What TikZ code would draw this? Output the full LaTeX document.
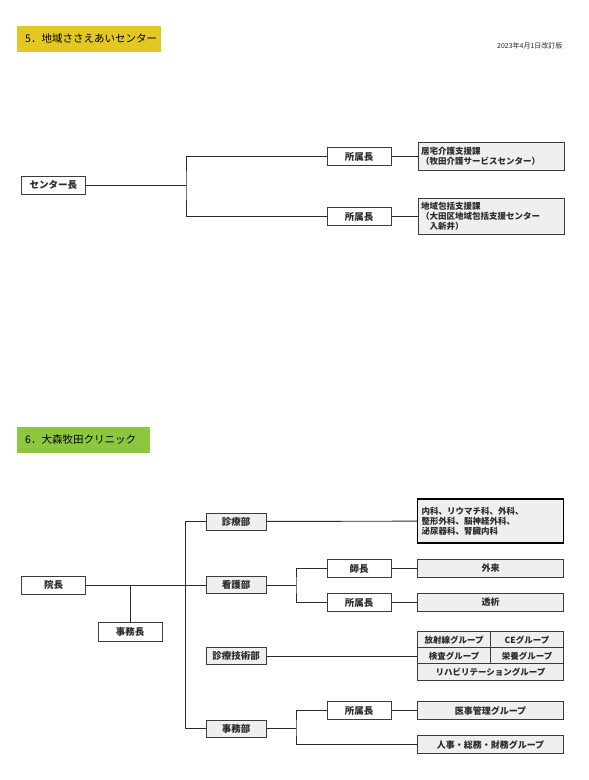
\documentclass[tikz,border=0pt]{standalone}
\usepackage{fontspec}
\setmainfont{Noto Sans CJK JP}
\usepackage{xcolor}
\usetikzlibrary{positioning,calc}
\definecolor{Yellow}{HTML}{E4C722}
\definecolor{Green}{HTML}{8DC63F}
\definecolor{Pale}{HTML}{EFEFEF}
\definecolor{Ink}{HTML}{2B2B2B}
\definecolor{Frame}{HTML}{3C3C3C}
\begin{document}
\begin{tikzpicture}[x=1pt,y=-1pt,
head/.style={anchor=west,minimum height=26,inner xsep=8,inner ysep=0,text width=128,align=left,font=\fontsize{10.5}{12}\selectfont},
box/.style={draw=Frame,line width=1pt,fill=white,minimum width=64,minimum height=18,inner sep=0pt,text=Ink,font=\bfseries\fontsize{9.5}{10}\selectfont},
dept/.style={box,fill=Pale,minimum width=60,minimum height=17},
unit/.style={box,fill=Pale,minimum width=146,font=\bfseries\fontsize{9}{10}\selectfont},
note/.style={unit,align=left,text width=141,inner xsep=2.5,font=\bfseries\fontsize{8.5}{10}\selectfont},
cell/.style={unit,minimum width=73,minimum height=16.5,font=\bfseries\fontsize{8.5}{10}\selectfont},
link/.style={draw=Ink,line width=0.9pt}]
\useasboundingbox[fill=white] (0,0) rectangle (589,780);
\node[head,fill=Yellow] (h5) at (17,39) {5．地域ささえあいセンター};
\node[anchor=base east,text=Ink,font=\fontsize{7}{8}\selectfont] (date) at (566,48) {2023年4月1日改訂版};
\node[box] (c) at (53.5,185) {センター長};
\node[box] (s1) at (359,156.5) {所属長};
\node[box] (s2) at (359,216.5) {所属長};
\node[note,minimum height=28] (r1) at (491.5,156.5) {居宅介護支援課\\（牧田介護サービスセンター）};
\node[note,minimum height=36] (r2) at (491.5,216.5) {地域包括支援課\\（大田区地域包括支援センター\\\hspace{1em}入新井）};
\coordinate (j1) at (186,185);
\draw[link] (c) -- (j1);
\draw[link] (s1.west) -| (j1) |- (s2.west);
\draw[link] (s1) -- (r1);
\draw[link] (s2) -- (r2);
\node[head,fill=Green,text width=117] (h6) at (17,439.5) {6．大森牧田クリニック};
\node[box] (dir) at (53.5,585) {院長};
\node[box,minimum height=19] (jm) at (130,632) {事務長};
\node[dept] (d1) at (236,521.5) {診療部};
\node[dept] (d2) at (236,585) {看護部};
\node[dept] (d3) at (236,656) {診療技術部};
\node[dept] (d4) at (236,728.5) {事務部};
\node[note,minimum height=44,draw=black,line width=1.2pt,inner xsep=4,text width=138] (u0) at (490.5,521) {内科、リウマチ科、外科、\\整形外科、脳神経外科、\\泌尿器科、腎臓内科};
\node[box] (n1) at (359,568.5) {師長};
\node[box] (n2) at (359,602.5) {所属長};
\node[unit] (u1) at (490.5,568.5) {外来};
\node[unit] (u2) at (490.5,602.5) {透析};
\node[cell] (g11) at (454,640) {放射線グループ};
\node[cell] (g12) at (527,640) {CEグループ};
\node[cell] (g21) at (454,656) {検査グループ};
\node[cell] (g22) at (527,656) {栄養グループ};
\node[cell,minimum width=146] (g3) at (490.5,672) {リハビリテーショングループ};
\node[box] (a1) at (359,710.5) {所属長};
\node[unit] (u5) at (490.5,710.5) {医事管理グループ};
\node[unit] (u6) at (490.5,744.5) {人事・総務・財務グループ};
\coordinate (t) at (185.5,620);
\coordinate (k) at (296,585);
\coordinate (m) at (296,728.5);
\draw[link] (dir) -- (d2);
\draw[link] (jm.north) -- (jm.north |- dir.east);
\draw[link] (d1.west) -| (t) |- (d4.west);
\draw[link] (d1) -- (u0);
\draw[link] (d2) -- (k);
\draw[link] (n1.west) -| (k) |- (n2.west);
\draw[link] (n1) -- (u1);
\draw[link] (n2) -- (u2);
\draw[link] (d3) -- (g21);
\draw[link] (d4) -- (m);
\draw[link] (a1.west) -| (m) |- (u6.west);
\draw[link] (a1) -- (u5);
\end{tikzpicture}
\end{document}
